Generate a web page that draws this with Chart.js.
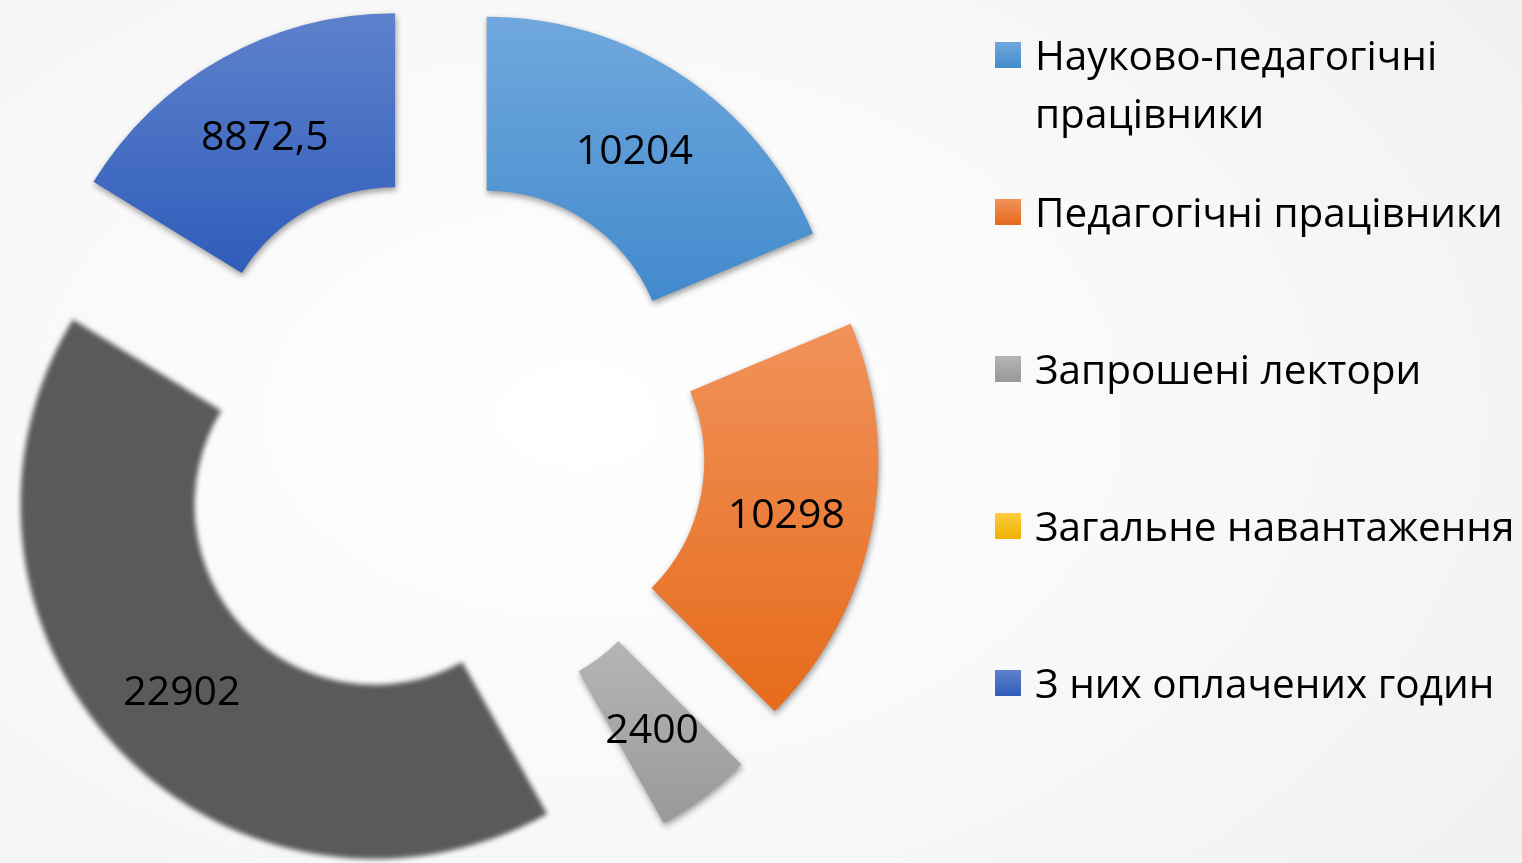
<!DOCTYPE html>
<html>
<head>
<meta charset="utf-8">
<script src="https://cdn.jsdelivr.net/npm/chart.js@4/dist/chart.umd.min.js"></script>
<style>
  html, body { margin: 0; padding: 0; }
  body {
    width: 1522px; height: 863px; overflow: hidden; position: relative;
    background: radial-gradient(ellipse 95% 110% at 38% 48%, #ffffff 0%, #f8f8f8 45%, #ececec 100%);
    font-family: "Open Sans", sans-serif;
  }
  #chart { position: absolute; left: 0; top: 0; }
  .legend { position: absolute; left: 995px; top: 26px; width: 527px; }
  .legend .item { height: 157px; display: flex; align-items: flex-start; }
  .legend .box { width: 26px; height: 26px; margin-top: 16px; flex: none; }
  .legend .text {
    margin-left: 14px; font-size: 40.5px; line-height: 58px; color: #000;
    width: 487px;
  }
  .legend .nowrap { white-space: nowrap; }
</style>
</head>
<body>
<canvas id="chart" width="1522" height="863"></canvas>
<div class="legend"></div>
<script>
const categories = [
  'Науково-педагогічні працівники',
  'Педагогічні працівники',
  'Запрошені лектори',
  'Загальне навантаження',
  'З них оплачених годин',
];
const hours = [10204, 10298, 2400, 22902, 8872.5];
const valueLabels = hours.map(v => String(v).replace('.', ','));

// slice fill (top -> bottom) and legend swatch colours
const sliceTop = ['#70a8dd', '#f1925b', '#b5b5b5', '#5a5a5a', '#5e81cc'];
const sliceBottom = ['#428acd', '#e66b1a', '#999999', '#5a5a5a', '#2f5dba'];
const legendTop = ['#70a8dd', '#f1925b', '#b5b5b5', '#ffcc40', '#5e81cc'];
const legendBottom = ['#428acd', '#e66b1a', '#999999', '#eeb100', '#2f5dba'];

const explode = 88;

// legend
const legendEl = document.querySelector('.legend');
categories.forEach((name, i) => {
  const item = document.createElement('div');
  item.className = 'item';
  const box = document.createElement('div');
  box.className = 'box';
  box.style.background = `linear-gradient(${legendTop[i]}, ${legendBottom[i]})`;
  const text = document.createElement('div');
  text.className = i === 0 ? 'text' : 'text nowrap';
  text.textContent = name;
  item.appendChild(box);
  item.appendChild(text);
  legendEl.appendChild(item);
});

function arcBoundsY(arc) {
  let minY = Infinity, maxY = -Infinity;
  for (let k = 0; k <= 60; k++) {
    const a = arc.startAngle + (arc.endAngle - arc.startAngle) * k / 60;
    [arc.innerRadius, arc.outerRadius].forEach(r => {
      const y = arc.y + Math.sin(a) * r;
      minY = Math.min(minY, y);
      maxY = Math.max(maxY, y);
    });
  }
  return [minY, maxY];
}

// draws each slice pulled out along its mid angle, with gradient and shadow
const explodedSlices = {
  id: 'explodedSlices',
  beforeDatasetDraw(chart, args) {
    const ctx = chart.ctx;
    args.meta.data.forEach((arc, i) => {
      const mid = (arc.startAngle + arc.endAngle) / 2;
      const dx = Math.cos(mid) * explode;
      const dy = Math.sin(mid) * explode;
      const [y0, y1] = arcBoundsY(arc);
      const grad = ctx.createLinearGradient(0, y0, 0, y1);
      grad.addColorStop(0, sliceTop[i]);
      grad.addColorStop(1, sliceBottom[i]);
      arc.options.backgroundColor = grad;
      ctx.save();
      ctx.translate(dx, dy);
      if (i === 3) {
        ctx.filter = 'blur(2.5px)';
      } else {
        ctx.shadowColor = 'rgba(0,0,0,0.4)';
        ctx.shadowBlur = 6;
        ctx.shadowOffsetX = 1;
        ctx.shadowOffsetY = 3;
      }
      arc.draw(ctx);
      ctx.restore();
    });
    return false;
  },
  afterDatasetsDraw(chart) {
    const ctx = chart.ctx;
    const meta = chart.getDatasetMeta(0);
    ctx.save();
    ctx.font = '41px "Open Sans"';
    ctx.fillStyle = '#000';
    ctx.textAlign = 'center';
    ctx.textBaseline = 'middle';
    meta.data.forEach((arc, i) => {
      const mid = (arc.startAngle + arc.endAngle) / 2;
      const r = explode + (arc.innerRadius + arc.outerRadius) / 2;
      ctx.fillText(valueLabels[i], arc.x + Math.cos(mid) * r, arc.y + Math.sin(mid) * r + 4);
    });
    ctx.restore();
  },
};

new Chart(document.getElementById('chart'), {
  type: 'doughnut',
  data: {
    labels: categories,
    datasets: [{
      data: hours,
      backgroundColor: sliceBottom,
      borderWidth: 0,
    }],
  },
  options: {
    responsive: false,
    animation: false,
    events: [],
    radius: 354,
    cutout: '50.8%',
    layout: { padding: { left: 0, right: 646, top: 25, bottom: 0 } },
    plugins: {
      legend: { display: false },
      tooltip: { enabled: false },
    },
  },
  plugins: [explodedSlices],
});
</script>
</body>
</html>
